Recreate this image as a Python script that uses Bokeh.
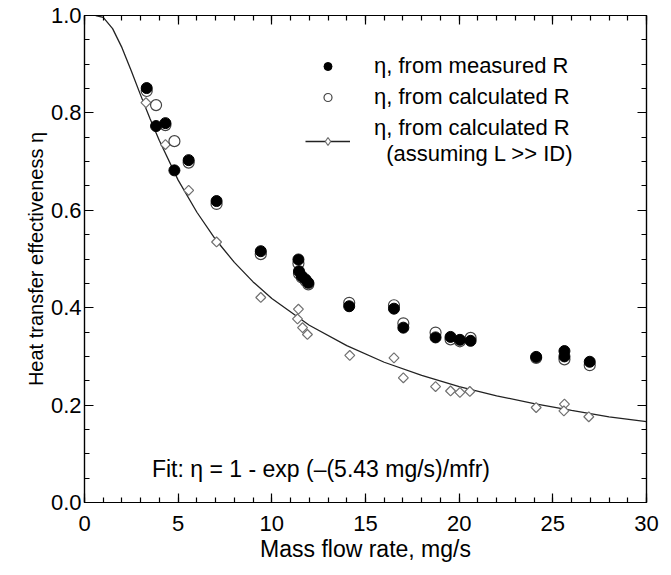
from bokeh.plotting import figure
from bokeh.models import (Range1d, LinearAxis, Legend, LegendItem, Label,
                          SingleIntervalTicker, PrintfTickFormatter, CustomJSTickFormatter)
from bokeh.embed import file_html
from bokeh.resources import INLINE

# ---- data ----
mfr_meas = [3.32, 3.82, 4.32, 4.80, 5.56, 7.05, 9.41, 11.42, 11.45, 11.60, 11.80, 11.95,
            14.13, 16.52, 17.02, 18.74, 19.54, 20.04, 20.61, 24.11, 25.62, 25.62, 26.97]
eta_meas = [0.851, 0.773, 0.779, 0.682, 0.703, 0.619, 0.516, 0.499, 0.475, 0.465, 0.458, 0.451,
            0.403, 0.398, 0.359, 0.339, 0.340, 0.334, 0.332, 0.299, 0.311, 0.300, 0.289]

mfr_calc = [3.32, 3.82, 4.32, 4.80, 5.56, 7.05, 9.41, 11.42, 11.45, 11.60, 11.80, 11.95,
            14.13, 16.52, 17.02, 18.74, 19.54, 20.04, 20.61, 24.11, 25.62, 26.97]
eta_calc = [0.845, 0.816, 0.775, 0.742, 0.698, 0.613, 0.510, 0.491, 0.470, 0.462, 0.455, 0.448,
            0.410, 0.405, 0.368, 0.349, 0.335, 0.331, 0.338, 0.297, 0.294, 0.282]

mfr_ideal = [3.28, 4.32, 5.56, 7.05, 9.41, 11.42, 11.37, 11.64, 11.90, 14.16, 16.52, 17.02,
             18.74, 19.54, 20.04, 20.57, 24.11, 25.62, 25.59, 26.92]
eta_ideal = [0.821, 0.735, 0.641, 0.535, 0.421, 0.397, 0.377, 0.359, 0.345, 0.302, 0.297, 0.256,
             0.238, 0.229, 0.226, 0.228, 0.195, 0.202, 0.188, 0.176]

# fit curve
fit_x = [0.6, 1.0, 1.5, 2.0, 2.5, 3.0, 3.5, 4.0, 5.0, 6.0, 7.0, 8.0, 9.0, 10.0,
         12.0, 14.0, 16.0, 18.0, 20.0, 22.0, 24.0, 26.0, 28.0, 30.0]
fit_y = [1.000, 0.996, 0.973, 0.934, 0.886, 0.836, 0.788, 0.743, 0.662, 0.596, 0.540, 0.493,
         0.453, 0.419, 0.364, 0.322, 0.288, 0.261, 0.238, 0.219, 0.203, 0.189, 0.176, 0.166]

x_label = "Mass flow rate, mg/s"
y_label = "Heat transfer effectiveness \u03b7"
leg_meas = "\u03b7, from measured R"
leg_calc = "\u03b7, from calculated R"
leg_ideal = "\u03b7, from calculated R\n  (assuming L >> ID)"
fit_text = "Fit: \u03b7 = 1 - exp (\u2013(5.43 mg/s)/mfr)"

FONT = "Liberation Sans"
NAN = float("nan")

p = figure(width=660, height=567, output_backend="svg", toolbar_location=None,
           x_range=Range1d(0, 30), y_range=Range1d(0, 1.0),
           min_border_left=84, min_border_top=15, min_border_right=14, min_border_bottom=65)
p.xgrid.visible = False
p.ygrid.visible = False
p.outline_line_color = "black"
p.outline_line_width = 1.2
p.background_fill_color = "white"
p.border_fill_color = "white"

def style_axis(ax):
    ax.axis_line_color = "black"
    ax.axis_line_width = 1.2
    ax.major_tick_in = 9
    ax.major_tick_out = 0
    ax.minor_tick_in = 5
    ax.minor_tick_out = 0
    ax.major_tick_line_color = "black"
    ax.minor_tick_line_color = "black"
    ax.major_tick_line_width = 1.2
    ax.minor_tick_line_width = 1.2
    ax.major_label_text_font = FONT
    ax.major_label_text_font_size = "22px"
    ax.major_label_text_color = "black"

p.xaxis.ticker = SingleIntervalTicker(interval=5, num_minor_ticks=5)
p.yaxis.ticker = SingleIntervalTicker(interval=0.2, num_minor_ticks=4)
style_axis(p.xaxis[0])
style_axis(p.yaxis[0])
p.xaxis.major_label_standoff = 13
p.yaxis.major_label_standoff = 3
p.yaxis.formatter = PrintfTickFormatter(format="%.1f")
p.xaxis.axis_label = x_label
p.yaxis.axis_label = y_label
p.xaxis.axis_label_text_font_size = "23px"
p.yaxis.axis_label_text_font_size = "20px"
for ax in (p.xaxis[0], p.yaxis[0]):
    ax.axis_label_text_font = FONT
    ax.axis_label_text_font_style = "normal"
    ax.axis_label_text_color = "black"
p.xaxis.axis_label_standoff = 2
p.yaxis.axis_label_standoff = 1

blank = CustomJSTickFormatter(code="return ''")
top_ax = LinearAxis(ticker=SingleIntervalTicker(interval=5, num_minor_ticks=5), formatter=blank)
right_ax = LinearAxis(ticker=SingleIntervalTicker(interval=0.2, num_minor_ticks=4), formatter=blank)
for ax in (top_ax, right_ax):
    style_axis(ax)
    ax.major_label_standoff = 0
p.add_layout(top_ax, "above")
p.add_layout(right_ax, "right")

fit_r = p.line(fit_x, fit_y, line_color="#222222", line_width=1.3)
ideal_r = p.scatter(mfr_ideal, eta_ideal, marker="square", angle=0.785398, size=7,
                    fill_color="white", line_color="#707070", line_width=1.2)
calc_r = p.scatter(mfr_calc, eta_calc, marker="circle", size=11,
                   fill_color="white", line_color="#444444", line_width=1.2)
meas_r = p.scatter(mfr_meas, eta_meas, marker="circle", size=11,
                   fill_color="black", line_color="black", line_width=1)

# legend-only key glyphs (a single NaN point, never drawn in the plot area)
leg_meas_r = p.scatter(x=[NAN], y=[NAN], marker="circle", size=8,
                       fill_color="black", line_color="black")
leg_calc_r = p.scatter(x=[NAN], y=[NAN], marker="circle", size=8, fill_color="white",
                       line_color="#444444", line_width=1.2)
leg_dia_r = p.scatter(x=[NAN], y=[NAN], marker="diamond", size=10, fill_color="white",
                      line_color="#707070", line_width=1.2)

legend = Legend(items=[
    LegendItem(label=leg_meas, renderers=[leg_meas_r]),
    LegendItem(label=leg_calc, renderers=[leg_calc_r]),
    LegendItem(label=leg_ideal, renderers=[fit_r, leg_dia_r]),
], location=(221, 335))
legend.background_fill_alpha = 0
legend.border_line_color = None
legend.label_text_font = FONT
legend.label_text_font_size = "22px"
legend.label_text_color = "black"
legend.glyph_width = 45
legend.glyph_height = 20
legend.label_standoff = 24
legend.spacing = 5
legend.padding = 0
legend.margin = 0
p.add_layout(legend, "center")

p.add_layout(Label(x=3.6, y=0.068, text=fit_text, text_font=FONT, text_font_size="23px",
                   text_color="black", text_baseline="alphabetic"))

open("out.html", "w").write(file_html(p, INLINE))
